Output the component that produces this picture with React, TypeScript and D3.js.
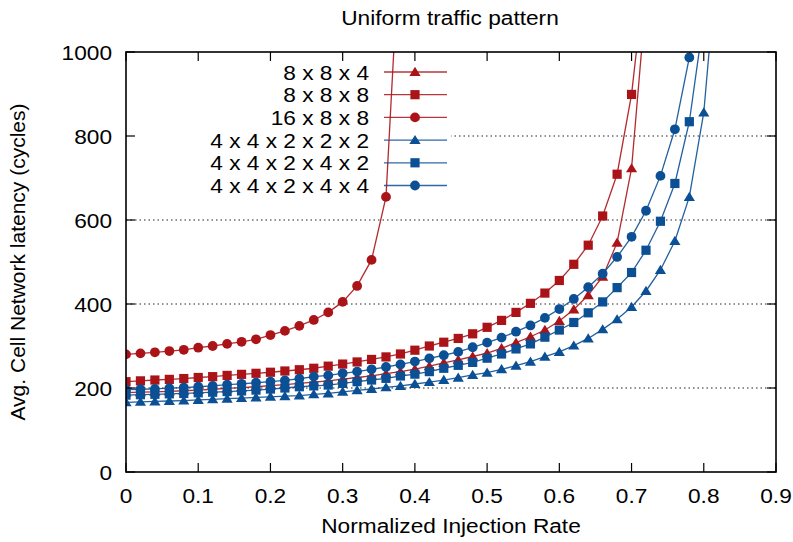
import React from "react";
import * as d3 from "d3";

// injection rates (x), one entry per simulated point
const rates = [
  0, 0.02, 0.04, 0.06, 0.08, 0.1, 0.12, 0.14, 0.16, 0.18, 0.2, 0.22, 0.24, 0.26,
  0.28, 0.3, 0.32, 0.34, 0.36, 0.38, 0.4, 0.42, 0.44, 0.46, 0.48, 0.5, 0.52,
  0.54, 0.56, 0.58, 0.6, 0.62, 0.64, 0.66, 0.68, 0.7, 0.72, 0.74, 0.76, 0.78,
  0.8, 0.82,
];

// latency in cycles per configuration (series stop when they saturate)
const lat_8x8x4 = [
  189, 190, 191, 192, 193.5, 195, 197, 199, 201, 203, 205.5, 208, 211, 214, 217,
  221, 225, 229, 234, 239, 245, 252, 260, 267, 275, 283, 294.5, 308, 322, 338,
  359.5, 387, 421, 465, 546, 723, 1128,
];
const lat_8x8x8 = [
  215, 217, 219, 220.5, 222.5, 225, 227, 230, 232.5, 235, 237.5, 240.5, 243.5,
  247, 252, 257, 262, 268, 274, 281, 290, 300, 309, 318, 329, 344.5, 361, 380,
  401.6, 426, 456, 494.5, 540, 609.5, 709, 899, 1205,
];
const lat_16x8x8 = [
  280, 282.5, 285, 288, 291, 296, 300, 305, 310, 316, 326, 336, 348, 362, 380,
  405, 443, 505, 655, 1300,
];
const lat_4x4x2x2x2 = [
  166, 167, 168, 169, 170, 171.5, 173, 174.5, 176, 177.5, 179, 180.5, 182, 185,
  187, 191, 194.5, 197.6, 201.6, 205, 209.5, 214, 219, 224.6, 231, 236.5, 244.5,
  253, 262.7, 274.6, 286, 301, 318, 339.6, 363.5, 393, 431, 481, 550, 655, 856,
  1250,
];
const lat_4x4x2x4x2 = [
  183, 184, 185, 186, 187, 188.5, 190, 191.5, 193, 195, 197.5, 200, 203, 205,
  207, 211, 215, 219, 223, 228.6, 233, 239, 247, 254, 261, 271, 281, 293, 305,
  321, 338, 356, 379, 405, 439, 475, 528, 597, 687, 834, 1080,
];
const lat_4x4x2x4x4 = [
  196, 197, 198, 199.5, 201, 203, 205, 208, 210, 212.5, 215, 218, 222, 227, 230,
  235, 239, 244.5, 250, 256, 263, 270.6, 278, 286, 297, 308, 320, 334, 349, 367,
  388, 412, 440, 472, 512, 560, 622, 705, 816, 987, 1400,
];

const seriesNames = [
  "8 x 8 x 4",
  "8 x 8 x 8",
  "16 x 8 x 8",
  "4 x 4 x 2 x 2 x 2",
  "4 x 4 x 2 x 4 x 2",
  "4 x 4 x 2 x 4 x 4",
];
const seriesValues = [
  lat_8x8x4,
  lat_8x8x8,
  lat_16x8x8,
  lat_4x4x2x2x2,
  lat_4x4x2x4x2,
  lat_4x4x2x4x4,
];
const seriesShapes = ["tri", "sq", "circ", "tri", "sq", "circ"];
const seriesColors = ["#aa1419", "#aa1419", "#aa1419", "#0b4f94", "#0b4f94", "#0b4f94"];

const xTicks = [0, 0.1, 0.2, 0.3, 0.4, 0.5, 0.6, 0.7, 0.8, 0.9];
const yTicks = [0, 200, 400, 600, 800, 1000];
const gridTicks = [200, 400, 600, 800];

const W = 793;
const H = 542;
const margin = { top: 52, right: 17, bottom: 70, left: 126 };
const FONT = "'Liberation Sans', Arial, Helvetica, sans-serif";
const STRETCH = 1.08; // the original text is a bit wider than tall

const Marker = ({ shape, x, y, color }) => {
  if (shape === "sq") {
    return <rect x={x - 4.6} y={y - 4.6} width={9.2} height={9.2} fill={color} />;
  }
  if (shape === "circ") {
    return <circle cx={x} cy={y} r={4.9} fill={color} />;
  }
  return (
    <path
      d={`M${x},${y - 5.2} L${x + 5.6},${y + 4} L${x - 5.6},${y + 4} Z`}
      fill={color}
    />
  );
};

// horizontal label, stretched sideways around its anchor
const Label = ({ x, y, anchor = "middle", size = 21, children }) => (
  <g transform={`translate(${x},${y}) scale(${STRETCH},1)`}>
    <text x={0} y={0} textAnchor={anchor} fontSize={size} fill="#000">
      {children}
    </text>
  </g>
);

export default function App() {
  const innerW = W - margin.left - margin.right;
  const innerH = H - margin.top - margin.bottom;

  const x = d3.scaleLinear().domain([0, 0.9]).range([margin.left, margin.left + innerW]);
  const y = d3.scaleLinear().domain([0, 1000]).range([margin.top + innerH, margin.top]);

  const line = d3
    .line<number>()
    .x((d, i) => x(rates[i]))
    .y((d) => y(d));

  const tickLen = 9;
  const legendRight = 369;
  const legendTop = 72;
  const legendStep = 22.7;

  return (
    <svg
      width={W}
      height={H}
      style={{ position: "absolute", left: 0, top: 0, background: "#fff" }}
      fontFamily={FONT}
    >
      <defs>
        <clipPath id="plot-clip">
          <rect x={margin.left} y={margin.top} width={innerW} height={innerH} />
        </clipPath>
      </defs>

      {/* horizontal dotted grid */}
      {gridTicks.map((t) => (
        <line
          key={"g" + t}
          x1={margin.left}
          x2={margin.left + innerW}
          y1={y(t)}
          y2={y(t)}
          stroke="#222"
          strokeWidth={1}
          strokeDasharray="1.5,3"
        />
      ))}

      {/* key background hides the grid behind it */}
      <rect x={margin.left + 1} y={60} width={324} height={137} fill="#fff" />

      {/* legend */}
      {seriesNames.map((name, i) => {
        const ly = legendTop + i * legendStep;
        return (
          <g key={name}>
            <Label x={legendRight} y={ly + 7.5} anchor="end">
              {name}
            </Label>
            <line
              x1={384}
              x2={447}
              y1={ly}
              y2={ly}
              stroke={seriesColors[i]}
              strokeWidth={1.3}
              opacity={0.85}
            />
            <Marker shape={seriesShapes[i]} x={415} y={ly} color={seriesColors[i]} />
          </g>
        );
      })}

      {/* data */}
      <g clipPath="url(#plot-clip)">
        {seriesValues.map((vals, i) => (
          <g key={seriesNames[i]}>
            <path
              d={line(vals) || ""}
              fill="none"
              stroke={seriesColors[i]}
              strokeWidth={1.3}
              opacity={0.9}
            />
            {vals.map((v, j) =>
              v <= 1000 ? (
                <Marker
                  key={j}
                  shape={seriesShapes[i]}
                  x={x(rates[j])}
                  y={y(v)}
                  color={seriesColors[i]}
                />
              ) : null
            )}
          </g>
        ))}
      </g>

      {/* ticks on all four sides, pointing inward */}
      {xTicks.map((t) => (
        <g key={"xt" + t}>
          <line x1={x(t)} x2={x(t)} y1={y(0)} y2={y(0) - tickLen} stroke="#000" strokeWidth={1.2} />
          <line x1={x(t)} x2={x(t)} y1={y(1000)} y2={y(1000) + tickLen} stroke="#000" strokeWidth={1.2} />
          <Label x={x(t)} y={503}>
            {t}
          </Label>
        </g>
      ))}
      {yTicks.map((t) => (
        <g key={"yt" + t}>
          <line x1={x(0)} x2={x(0) + tickLen} y1={y(t)} y2={y(t)} stroke="#000" strokeWidth={1.2} />
          <line x1={x(0.9)} x2={x(0.9) - tickLen} y1={y(t)} y2={y(t)} stroke="#000" strokeWidth={1.2} />
          <Label x={112} y={y(t) + 7.5} anchor="end">
            {t}
          </Label>
        </g>
      ))}

      {/* frame */}
      <rect
        x={margin.left}
        y={margin.top}
        width={innerW}
        height={innerH}
        fill="none"
        stroke="#000"
        strokeWidth={1.6}
      />

      {/* titles */}
      <Label x={450} y={25} size={21}>
        Uniform traffic pattern
      </Label>
      <Label x={451} y={533}>
        Normalized Injection Rate
      </Label>
      <text
        transform={`translate(25, ${margin.top + innerH / 2}) rotate(-90)`}
        textAnchor="middle"
        fontSize={21}
        fill="#000"
      >
        Avg. Cell Network latency (cycles)
      </text>
    </svg>
  );
}
